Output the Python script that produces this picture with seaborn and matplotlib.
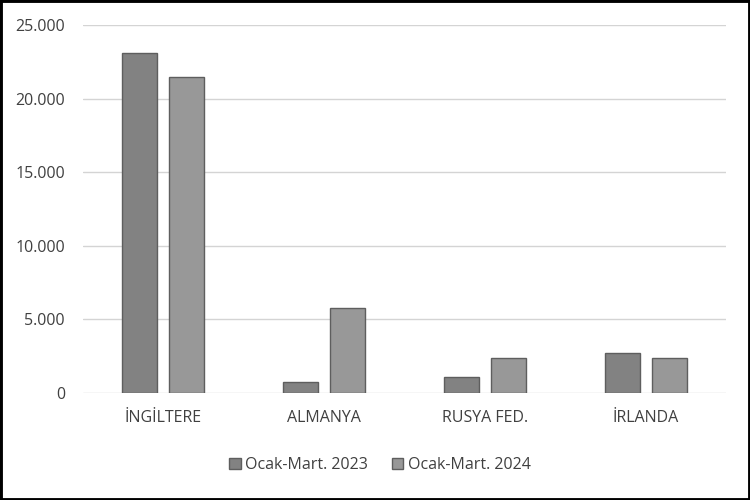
import matplotlib
matplotlib.use("Agg")
import matplotlib.pyplot as plt
import seaborn as sns
import pandas as pd
from matplotlib.patches import Rectangle

countries = ["İNGİLTERE", "ALMANYA", "RUSYA FED.", "İRLANDA"]
series = ["Ocak-Mart. 2023", "Ocak-Mart. 2024"]
values_2023 = [23100, 750, 1100, 2750]
values_2024 = [21500, 5800, 2400, 2400]
y_ticks = [0, 5000, 10000, 15000, 20000, 25000]
y_tick_labels = ["0", "5.000", "10.000", "15.000", "20.000", "25.000"]

df = pd.DataFrame({
    "country": countries * 2,
    "period": [series[0]] * 4 + [series[1]] * 4,
    "value": values_2023 + values_2024,
})

sns.set_theme(style="white")
plt.rcParams["font.family"] = ["Open Sans", "DejaVu Sans"]

fig = plt.figure(figsize=(7.5, 5), dpi=100)
fig.patch.set_facecolor("white")
ax = fig.add_axes([83 / 750, 1 - 393 / 500, (726 - 83) / 750, (393 - 25) / 500])

sns.barplot(data=df, x="country", y="value", hue="period", order=countries,
            hue_order=series, palette=["#828282", "#989898"],
            width=0.584, gap=0.257, edgecolor="#5e5e5e", linewidth=1.0,
            ax=ax, legend=True)

ax.set_ylim(0, 25000)
ax.set_xlim(-0.5, 3.5)
ax.set_yticks(y_ticks)
ax.set_yticklabels(y_tick_labels)
ax.yaxis.grid(True, color="#d4d4d4", linewidth=1.0)
ax.set_axisbelow(True)
for s in ax.spines.values():
    s.set_visible(False)
ax.set_xlabel("")
ax.set_ylabel("")
ax.tick_params(axis="both", length=0, labelsize=11.5, colors="#404040")
ax.tick_params(axis="y", pad=13)
ax.tick_params(axis="x", pad=12)

handles, labels = ax.get_legend_handles_labels()
ax.get_legend().remove()
fig.legend(handles, labels, loc="center", bbox_to_anchor=(0.507, 0.07),
           ncol=2, frameon=False, fontsize=11.5, handlelength=0.7,
           handleheight=0.7, handletextpad=0.3, columnspacing=1.5,
           labelcolor="#404040")

fig.patches.append(Rectangle((0, 0), 1, 1, transform=fig.transFigure,
                             fill=False, edgecolor="black", linewidth=3.5))

fig.savefig("out.png", dpi=100, facecolor="white")
